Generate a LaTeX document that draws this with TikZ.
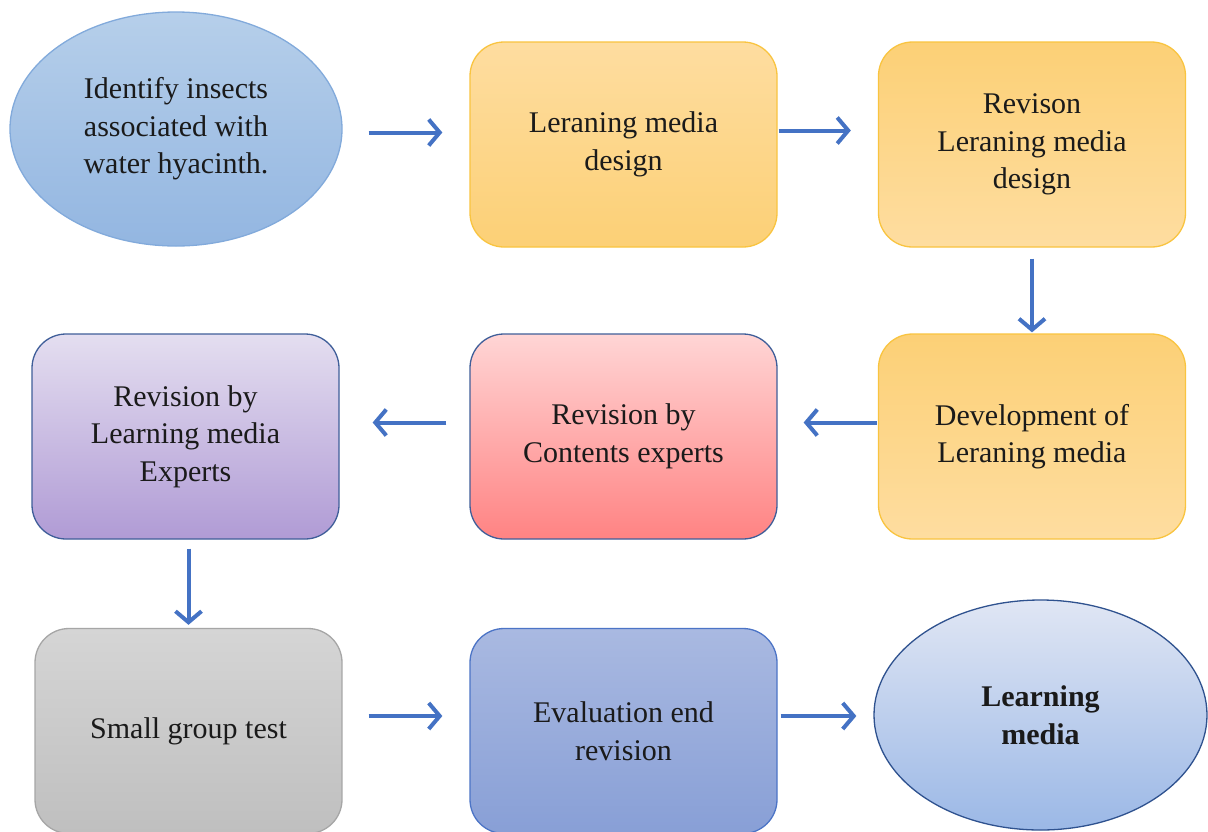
\documentclass[tikz,border=0pt]{standalone}
\usepackage{fontspec}
\setmainfont{Liberation Serif}
\usetikzlibrary{shapes.geometric,arrows.meta}
\definecolor{arrowblue}{HTML}{4472C4}
\definecolor{txt}{HTML}{1A1A1A}
\definecolor{yelborder}{HTML}{F9C440}
\definecolor{darkborder}{HTML}{3F5E99}
\definecolor{sborder}{RGB}{130,170,219}
\definecolor{stop}{RGB}{182,207,234}
\definecolor{sbot}{RGB}{147,182,225}
\definecolor{ylight}{RGB}{254,221,160}
\definecolor{ydark}{RGB}{252,208,118}
\definecolor{ptop}{RGB}{255,213,213}
\definecolor{pbot}{RGB}{255,131,131}
\definecolor{vtop}{RGB}{228,222,240}
\definecolor{vbot}{RGB}{176,155,213}
\definecolor{gborder}{RGB}{166,166,166}
\definecolor{gtop}{RGB}{213,213,213}
\definecolor{gbot}{RGB}{191,191,191}
\definecolor{bborder}{RGB}{76,116,198}
\definecolor{btop}{RGB}{169,185,225}
\definecolor{bbot}{RGB}{136,159,214}
\definecolor{lborder}{RGB}{47,82,143}
\definecolor{ltop}{RGB}{224,230,244}
\definecolor{lbot}{RGB}{155,184,230}
\begin{document}
\begin{tikzpicture}[x=1pt,y=-1pt,
  lbl/.style={align=center, text=txt, font=\fontsize{30}{37.5}\selectfont},
  box/.style={lbl, draw, rounded corners=34pt, minimum width=307pt, minimum height=205pt, line width=1.3pt},
  oval/.style={lbl, ellipse, draw, inner sep=0pt, line width=1.3pt},
  flow/.style={draw=arrowblue, line width=4pt, -{Straight Barb[length=11pt,width=26pt,line width=4pt]}}
]
\useasboundingbox (0,0) rectangle (1208,831);
\fill[white] (0,0) rectangle (1208,831);

\node[oval, minimum width=332pt, minimum height=234pt, draw=sborder, top color=stop, bottom color=sbot] (s) at (176,129) {Identify insects\\associated with\\water hyacinth.};

\node[box, draw=yelborder, top color=ylight, bottom color=ydark] (a) at (623.5,144.5) {Leraning media\\design};

\node[box, draw=yelborder, top color=ydark, bottom color=ylight] (b) at (1032,144.5) {Revison\\Leraning media\\design};

\node[box, draw=yelborder, top color=ydark, bottom color=ylight] (c) at (1032,436.5) {Development of\\Leraning media};

\node[box, draw=darkborder, top color=ptop, bottom color=pbot] (d) at (623.5,436.5) {Revision by\\Contents experts};

\node[box, draw=darkborder, top color=vtop, bottom color=vbot] (e) at (185.5,436.5) {Revision by\\Learning media\\Experts};

\node[box, draw=gborder, top color=gtop, bottom color=gbot] (f) at (188.5,731) {Small group test};

\node[box, draw=bborder, top color=btop, bottom color=bbot] (g) at (623.5,731) {Evaluation end\\revision};

\node[oval, minimum width=333pt, minimum height=230pt, draw=lborder, top color=ltop, bottom color=lbot, font=\fontsize{30}{37.5}\selectfont\bfseries] (l) at (1040.5,715) {Learning\\media};

\coordinate (a1) at ([yshift=12pt]a.west);
\coordinate (a2) at ([yshift=14pt]a.east);
\coordinate (c1) at ([yshift=14pt]c.west);
\coordinate (d1) at ([yshift=14pt]d.west);
\coordinate (f1) at ([yshift=15pt]f.east);
\coordinate (g1) at ([yshift=15pt]g.east);

\draw[flow, shorten <=26pt, shorten >=27pt] (s.east |- a1) -- (a1);
\draw[flow, shorten <=1pt, shorten >=27pt] (a2) -- (b.west |- a2);
\draw[flow, shorten <=11pt, shorten >=1pt] (b.south) -- (c.north);
\draw[flow, shorten <=1pt, shorten >=26pt] (c1) -- (d.east |- c1);
\draw[flow, shorten <=23pt, shorten >=33pt] (d1) -- (e.east |- d1);
\draw[flow, shorten <=9pt, shorten >=3pt] (f.north |- e.south) -- (f.north);
\draw[flow, shorten <=26pt, shorten >=27pt] (f1) -- (g.west |- f1);
\draw[flow, shorten <=3pt, shorten >=17pt] (g1) -- (l.west |- g1);
\end{tikzpicture}
\end{document}
